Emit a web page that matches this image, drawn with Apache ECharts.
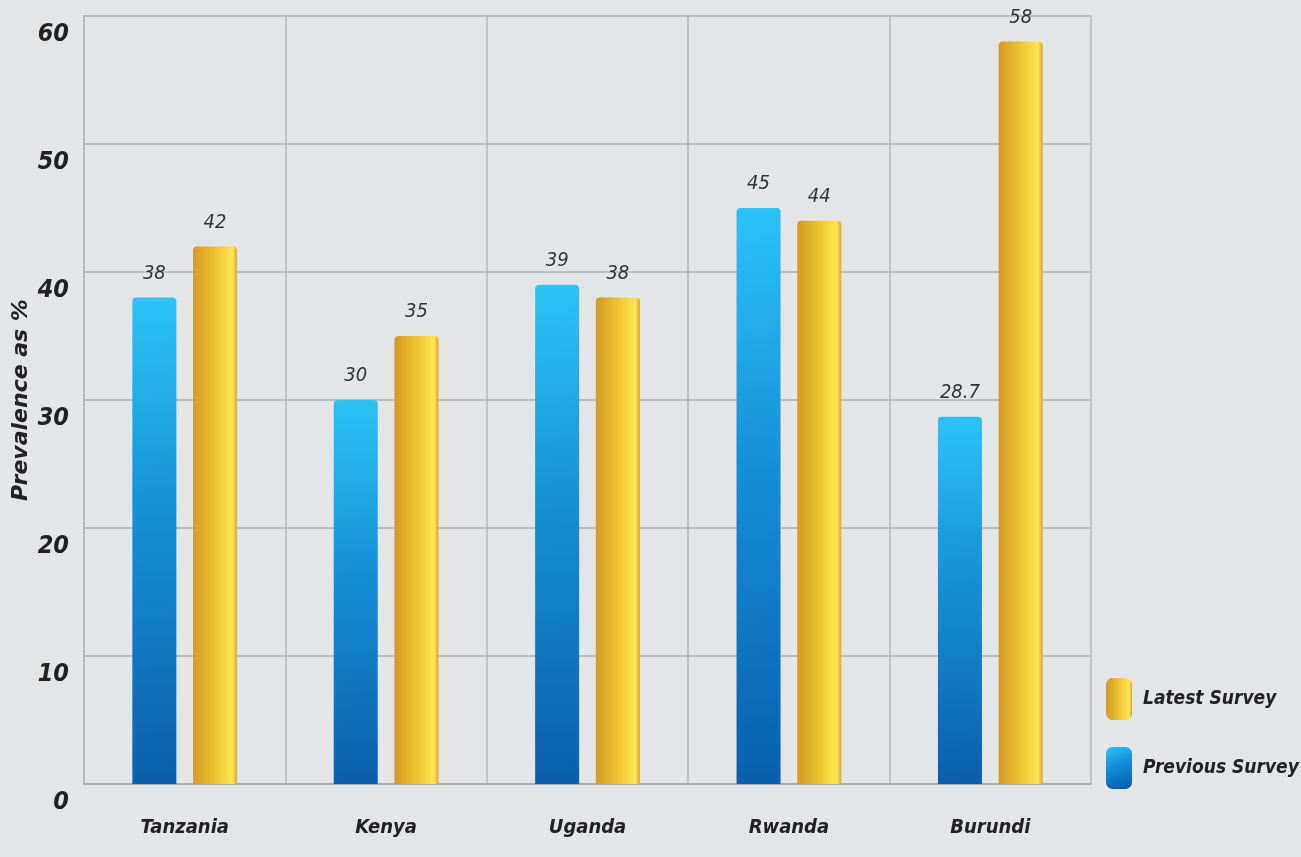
<!DOCTYPE html>
<html><head><meta charset="utf-8">
<script src="https://cdn.jsdelivr.net/npm/echarts@6/dist/echarts.min.js"></script>
<style>html,body{margin:0;padding:0;background:#e4e5e7;}#c{width:1301px;height:857px;}</style>
</head><body><div id="c"></div>
<script>
const categories = ['Tanzania', 'Kenya', 'Uganda', 'Rwanda', 'Burundi'];
const previousSurvey = [38, 30, 39, 45, 28.7];
const latestSurvey = [42, 35, 38, 44, 58];
const yTicks = [0, 10, 20, 30, 40, 50, 60];

const FONT = "'DejaVu Sans Condensed', 'Liberation Sans Narrow', sans-serif";
const chart = echarts.init(document.getElementById('c'));
const blueFill = new echarts.graphic.LinearGradient(0, 0, 0.6, 1, [
  {offset: 0, color: '#2cc3f6'},
  {offset: 0.45, color: '#1490d8'},
  {offset: 1, color: '#0a5fae'}
]);
const goldFill = new echarts.graphic.LinearGradient(0, 0, 1, 0, [
  {offset: 0, color: '#d39a22'},
  {offset: 0.55, color: '#f1c833'},
  {offset: 0.9, color: '#fde654'},
  {offset: 1, color: '#d9a42a'}
]);
const labelStyle = {show: true, position: 'top', distance: 14, fontFamily: FONT, fontStyle: 'italic', fontSize: 20, color: '#333'};
chart.setOption({
  backgroundColor: '#e4e5e7',
  animation: false,
  grid: {left: 84, right: 210, top: 16, bottom: 73, containLabel: false, outerBoundsMode: 'none'},
  legend: {
    orient: 'vertical', left: 1101, top: 673,
    itemWidth: 26, itemHeight: 42, itemGap: 27,
    data: ['Latest Survey', 'Previous Survey'],
    textStyle: {fontFamily: FONT, fontStyle: 'italic', fontWeight: 'bold', fontSize: 19, color: '#222', padding: [0, 0, 0, 6]}
  },
  xAxis: {
    type: 'category', data: categories,
    axisLine: {lineStyle: {color: '#a9abae', width: 1.5}},
    axisTick: {show: false},
    splitLine: {show: true, interval: 0, lineStyle: {color: '#b3b5b8', width: 1.5}},
    axisLabel: {margin: 34, fontFamily: FONT, fontStyle: 'italic', fontWeight: 'bold', fontSize: 20, color: '#222'}
  },
  yAxis: {
    type: 'value', min: yTicks[0], max: yTicks[yTicks.length - 1], interval: 10,
    name: 'Prevalence as %', nameLocation: 'middle', nameGap: 52, nameMoveOverlap: false,
    nameTextStyle: {fontFamily: "'DejaVu Sans', sans-serif", fontStyle: 'italic', fontWeight: 'bold', fontSize: 22, color: '#222'},
    axisLine: {show: true, lineStyle: {color: '#b3b5b8', width: 1.5}},
    axisTick: {show: false},
    splitLine: {lineStyle: {color: '#b3b5b8', width: 1.5}},
    axisLabel: {margin: 15, verticalAlign: 'top', lineHeight: 36, fontFamily: FONT, fontStyle: 'italic', fontWeight: 'bold', fontSize: 25, color: '#222'}
  },
  series: [
    {name: 'Previous Survey', type: 'bar', data: previousSurvey, barWidth: 44, barGap: '38%',
     itemStyle: {color: blueFill, borderRadius: [4, 4, 0, 0]}, label: labelStyle},
    {name: 'Latest Survey', type: 'bar', data: latestSurvey, barWidth: 44,
     itemStyle: {color: goldFill, borderRadius: [4, 4, 0, 0]}, label: labelStyle}
  ]
});
</script></body></html>
